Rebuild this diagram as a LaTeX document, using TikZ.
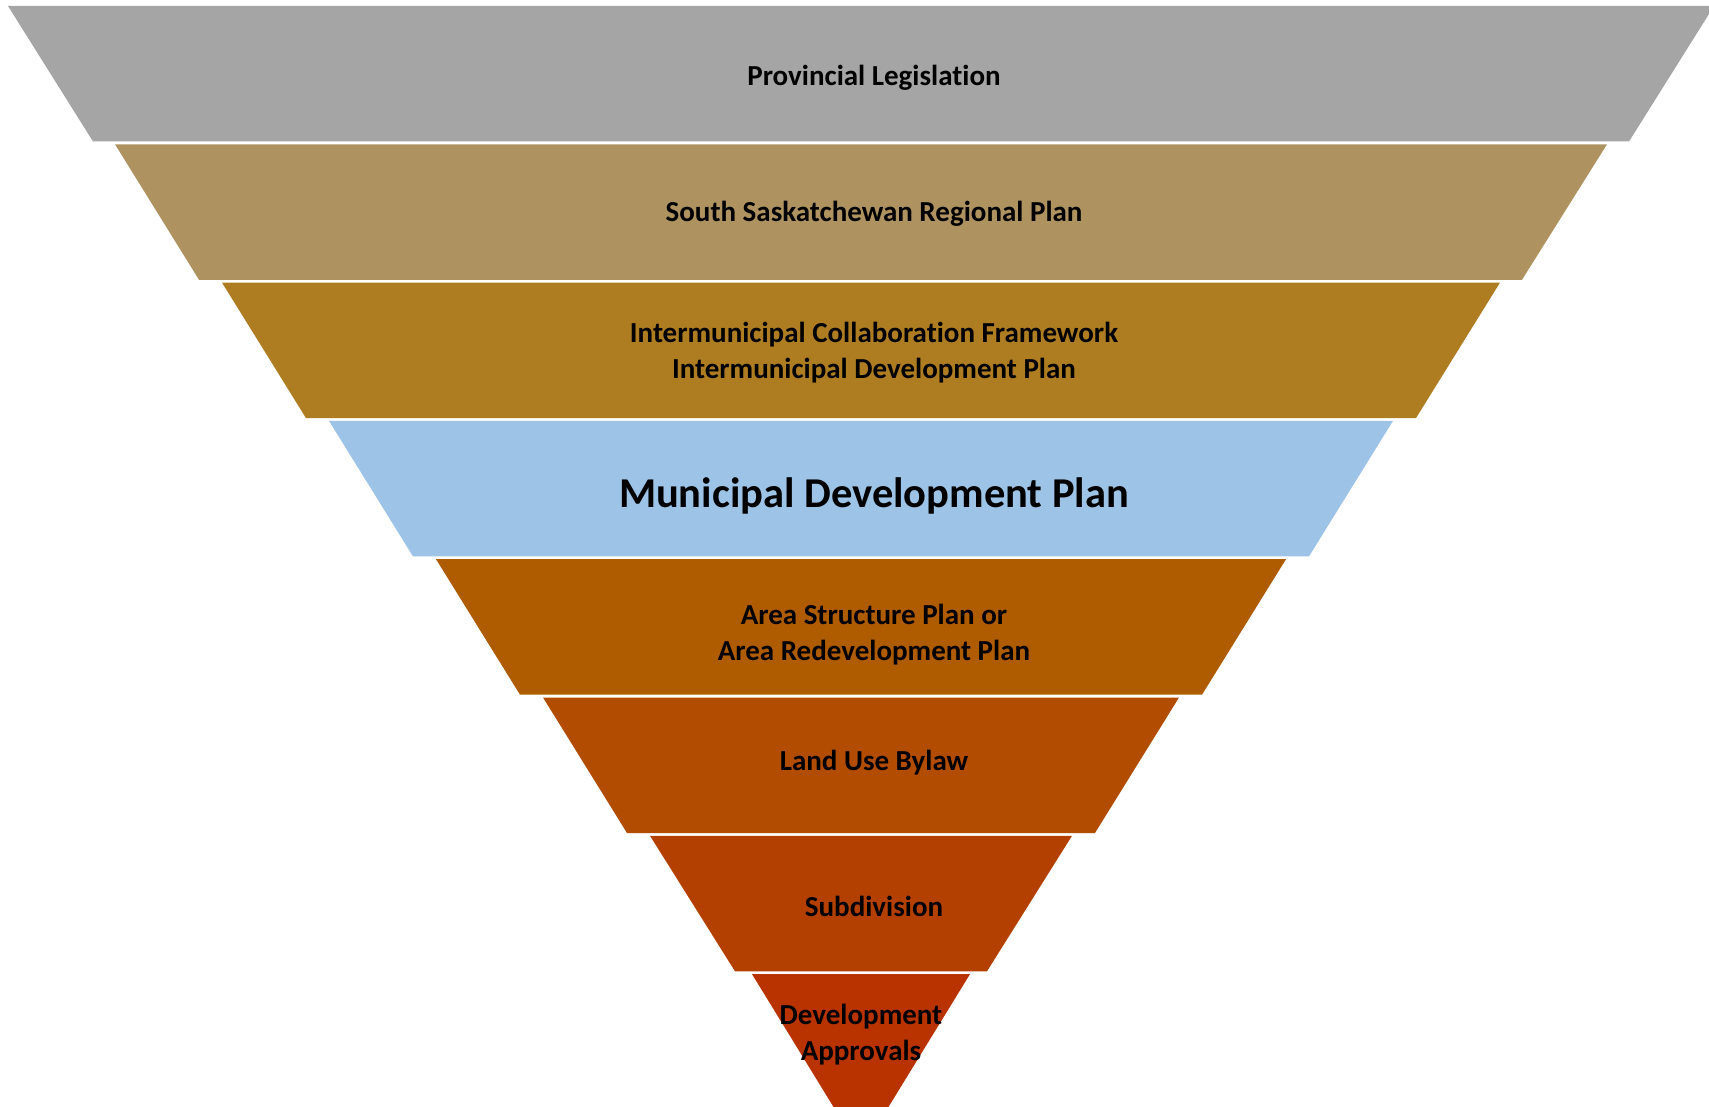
\documentclass[tikz,border=0pt]{standalone}
\usepackage{fontspec}
\setmainfont{Carlito}[Ligatures=NoCommon]
\usepackage{tikz}

\definecolor{legis}{HTML}{A5A5A5}
\definecolor{region}{HTML}{AE9360}
\definecolor{inter}{HTML}{AE7D22}
\definecolor{mdpblue}{HTML}{9DC3E6}
\definecolor{areaplan}{HTML}{AF5B00}
\definecolor{bylaw}{HTML}{B24C00}
\definecolor{subdiv}{HTML}{B44000}
\definecolor{approv}{HTML}{B83300}

\begin{document}
\begin{tikzpicture}[x=1pt,y=-1pt]
                \useasboundingbox (0,0) rectangle (1709,1107);
                \begin{scope}
                        \clip (0,0) rectangle (1709,1107);
                        \fill[legis] (8,6) -- (1714,6) -- (1629,141.5) -- (93,141.5) -- cycle;
                        \fill[region] (115,144.3) -- (1607,144.3) -- (1522,279.8) -- (199,279.8) -- cycle;
                        \fill[inter] (222,282.6) -- (1500,282.6) -- (1416,418.1) -- (306,418.1) -- cycle;
                        \fill[mdpblue] (329,420.9) -- (1393,420.9) -- (1309,556.4) -- (413,556.4) -- cycle;
                        \fill[areaplan] (436,559.2) -- (1286,559.2) -- (1202,694.7) -- (520,694.7) -- cycle;
                        \fill[bylaw] (543,697.5) -- (1179,697.5) -- (1095,833) -- (627,833) -- cycle;
                        \fill[subdiv] (650,835.8) -- (1072,835.8) -- (987,971.3) -- (735,971.3) -- cycle;
                        \fill[approv] (752,974.1) -- (970,974.1) -- (886,1111) -- (836,1111) -- cycle;
                \end{scope}
                \begin{scope}[every node/.style={font=\fontsize{29}{36.5}\selectfont\bfseries, align=center, inner sep=0}]
                        \node (P) at (874,78) {Provincial Legislation};
                        \node (SSRP) at (874,214) {South Saskatchewan Regional Plan};
                        \node (IC) at (874,352.5) {Intermunicipal Collaboration Framework\\Intermunicipal Development Plan};
                        \node[font=\fontsize{42.5}{51}\selectfont\bfseries] (MDP) at (874,495.5) {Municipal Development Plan};
                        \node (ASP) at (874,634.5) {Area Structure Plan or\\Area Redevelopment Plan};
                        \node (LUB) at (874,763) {Land Use Bylaw};
                        \node (SD) at (874,906) {Subdivision};
                        \node (DA) at (861,1034.5) {Development\\Approvals};
                \end{scope}
\end{tikzpicture}
\end{document}
